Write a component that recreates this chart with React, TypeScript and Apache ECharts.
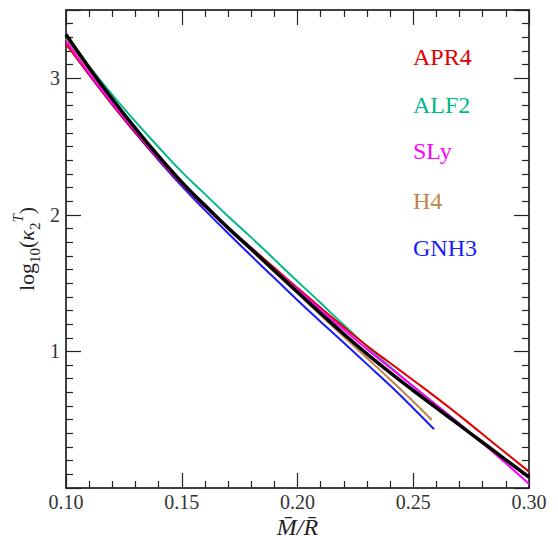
import React, { useEffect, useRef } from "react";
import * as echarts from "echarts";

// x positions (M/R)
const xFull = [0.10, 0.11, 0.12, 0.13, 0.14, 0.15, 0.16, 0.17, 0.18, 0.19, 0.20, 0.21, 0.22, 0.23, 0.24, 0.25, 0.26, 0.27, 0.28, 0.29, 0.30];
const xALF2 = [0.10, 0.11, 0.12, 0.13, 0.14, 0.15, 0.16, 0.17, 0.18, 0.19, 0.20, 0.21, 0.22, 0.23, 0.24, 0.25, 0.26, 0.27];
const xH4 = [0.10, 0.11, 0.12, 0.13, 0.14, 0.15, 0.16, 0.17, 0.18, 0.19, 0.20, 0.21, 0.22, 0.23, 0.24, 0.25, 0.258];
const xGNH3 = [0.10, 0.11, 0.12, 0.13, 0.14, 0.15, 0.16, 0.17, 0.18, 0.19, 0.20, 0.21, 0.22, 0.23, 0.24, 0.25, 0.259];

// log10(kappa_2^T) values
const yAPR4 = [3.25, 3.027, 2.808, 2.603, 2.41, 2.225, 2.06, 1.905, 1.76, 1.612, 1.465, 1.32, 1.178, 1.042, 0.915, 0.789, 0.662, 0.53, 0.393, 0.256, 0.12];
const yALF2 = [3.31, 3.087, 2.878, 2.683, 2.495, 2.315, 2.152, 1.99, 1.835, 1.674, 1.513, 1.355, 1.193, 1.037, 0.887, 0.744, 0.607, 0.47];
const ySLy = [3.27, 3.037, 2.818, 2.613, 2.415, 2.23, 2.065, 1.905, 1.755, 1.602, 1.455, 1.305, 1.158, 1.017, 0.88, 0.744, 0.607, 0.47, 0.328, 0.181, 0.03];
const yH4 = [3.29, 3.057, 2.833, 2.623, 2.42, 2.23, 2.06, 1.895, 1.74, 1.582, 1.425, 1.265, 1.108, 0.952, 0.795, 0.634, 0.498];
const yGNH3 = [3.26, 3.027, 2.808, 2.598, 2.40, 2.21, 2.035, 1.865, 1.70, 1.537, 1.375, 1.218, 1.063, 0.907, 0.75, 0.584, 0.43];
const yFit = [3.32, 3.077, 2.848, 2.633, 2.43, 2.24, 2.07, 1.905, 1.75, 1.592, 1.435, 1.28, 1.128, 0.982, 0.845, 0.714, 0.587, 0.46, 0.333, 0.206, 0.08];

const eosNames = ["APR4", "ALF2", "SLy", "H4", "GNH3"];
const eosColors = ["#e00000", "#00b98a", "#ff00ff", "#c0834a", "#1a1aff"];
const yTickLabels = [1, 2, 3];

const zip = (xs: number[], ys: number[]) => xs.map((x, i) => [x, ys[i]]);

const FONT = "Liberation Serif";

export default function App() {
  const ref = useRef<HTMLDivElement>(null);
  useEffect(() => {
    if (!ref.current) return;
    const chart = echarts.init(ref.current, undefined, { renderer: "svg" });
    const axisCommon = {
      type: "value" as const,
      axisLine: { show: true, onZero: false, lineStyle: { color: "#000", width: 1.5 } },
      axisTick: { show: true, inside: true, length: 15, lineStyle: { color: "#222", width: 1.2 } },
      minorTick: { show: true, length: 7, lineStyle: { color: "#222", width: 1.2 } },
      splitLine: { show: false },
    };
    const xBase = { ...axisCommon, min: 0.1, max: 0.3, interval: 0.05, minorTick: { ...axisCommon.minorTick, splitNumber: 5 } };
    const yBase = { ...axisCommon, min: 0, max: 3.5, interval: 1, minorTick: { ...axisCommon.minorTick, splitNumber: 10 } };
    const seriesData = [zip(xFull, yAPR4), zip(xALF2, yALF2), zip(xFull, ySLy), zip(xH4, yH4), zip(xGNH3, yGNH3)];
    const drawOrder = [1, 3, 4, 0, 2];
    const series: any[] = drawOrder.map((i) => ({
      name: eosNames[i],
      type: "line",
      data: seriesData[i],
      showSymbol: false,
      smooth: true,
      lineStyle: { color: eosColors[i], width: 2 },
      z: 2,
    }));
    series.push({
      name: "Fit",
      type: "line",
      data: zip(xFull, yFit),
      showSymbol: false,
      smooth: true,
      lineStyle: { color: "#000", width: 3.5 },
      z: 3,
    });
    chart.setOption({
      animation: false,
      backgroundColor: "#fff",
      grid: { left: 66, right: 29, top: 10, bottom: 52, containLabel: false, outerBoundsMode: "none" },
      xAxis: [
        {
          ...xBase,
          position: "bottom",
          axisLabel: {
            show: true,
            margin: 4,
            fontFamily: FONT,
            fontSize: 20,
            color: "#333",
            formatter: (v: number) => v.toFixed(2),
          },
          name: "M\u0304/R\u0304",
          nameLocation: "middle",
          nameGap: 27,
          nameMoveOverlap: false,
          nameTextStyle: { fontFamily: FONT, fontSize: 24, fontStyle: "italic", color: "#222" },
        },
        { ...xBase, position: "top", axisLabel: { show: false } },
      ],
      yAxis: [
        {
          ...yBase,
          position: "left",
          axisLabel: {
            show: true,
            margin: 6,
            fontFamily: FONT,
            fontSize: 20,
            color: "#333",
            formatter: (v: number) => (yTickLabels.includes(Math.round(v * 1000) / 1000) ? String(v) : ""),
          },
          name: "{a|log}{sub|10}{a|(}{k|\u03BA}{sub|2}{sup|T}{a|)}",
          nameLocation: "middle",
          nameGap: 24,
          nameMoveOverlap: false,
          nameRotate: 90,
          nameTextStyle: {
            fontFamily: FONT,
            fontSize: 22,
            color: "#222",
            rich: {
              a: { fontFamily: FONT, fontSize: 22, lineHeight: 32, color: "#222", verticalAlign: "middle" },
              k: { fontFamily: FONT, fontSize: 22, fontStyle: "italic", lineHeight: 32, color: "#222", verticalAlign: "middle" },
              sub: { fontFamily: FONT, fontSize: 15, lineHeight: 16, color: "#222", verticalAlign: "bottom" },
              sup: { fontFamily: FONT, fontSize: 15, fontStyle: "italic", lineHeight: 16, color: "#222", verticalAlign: "top" },
            },
          },
        },
        { ...yBase, position: "right", axisLabel: { show: false } },
      ],
      graphic: eosNames.map((n, i) => ({
        type: "text",
        left: 413,
        top: [45, 93, 139, 189, 236][i],
        style: { text: n, fill: eosColors[i], fontFamily: FONT, fontSize: 24 },
        z: 10,
      })),
      series,
    });
    return () => chart.dispose();
  }, []);
  return <div ref={ref} style={{ position: "fixed", left: 0, top: 0, width: 558, height: 540 }} />;
}
